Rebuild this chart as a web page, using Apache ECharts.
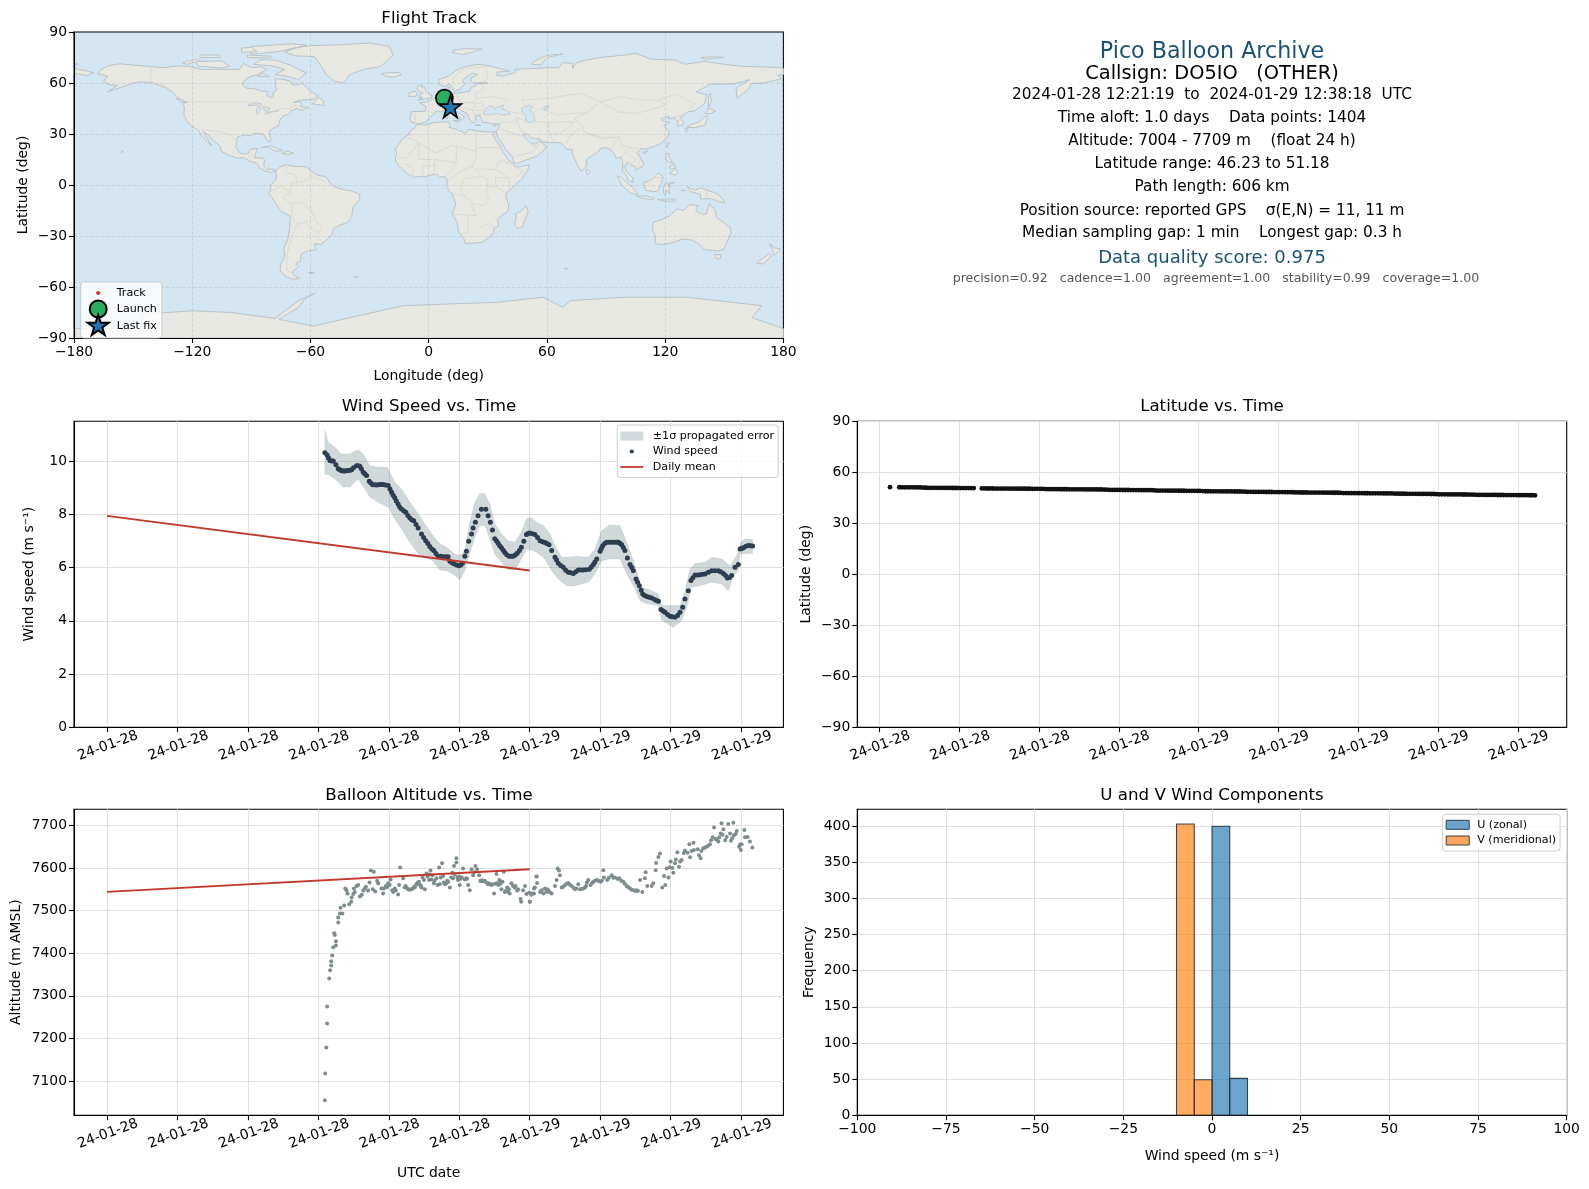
<!DOCTYPE html>
<html><head><meta charset="utf-8"><title>Pico Balloon Archive</title>
<style>html,body{margin:0;padding:0;background:#fff}#c{width:1589px;height:1189px}</style>
<script src="https://cdn.jsdelivr.net/npm/echarts@6/dist/echarts.min.js"></script></head>
<body><div id="c"></div><script>
const landPolys=[
[[-168,65.5],[-166,68.3],[-162,70.3],[-156.5,71.3],[-150,70.5],[-141,69.7],[-135,69],[-128,70],[-122,69.8],[-115,68],[-108,68],[-100,68],[-96,68],[-94,71.5],[-90,69],[-85,69.5],[-82,68],[-87,65],[-91,63.5],[-94,61],[-94.5,58.8],[-92.5,57],[-88,56.5],[-85,55.3],[-82,55],[-82,52.5],[-79.5,51.3],[-79,52],[-79,54.5],[-77,56],[-78,58.5],[-77.5,60.5],[-78,62.4],[-74,62.2],[-70,61],[-69,59],[-66,58.8],[-64.5,60.3],[-62,57.5],[-60,55],[-56,52.5],[-59,50.2],[-65,50],[-69,48.5],[-65,49],[-64.5,47.5],[-65,46],[-61,45.7],[-64,44],[-66,44.5],[-67,45],[-70,43.7],[-70.5,41.8],[-74,40.6],[-75.5,38],[-76,36],[-76,35],[-78,33.8],[-81,31.8],[-81,30],[-80,26.8],[-80.5,25.2],[-81.8,26],[-82.8,28],[-84,30],[-86,30.4],[-89,30.3],[-90,29],[-94,29.5],[-97,28],[-97.5,25],[-97.8,22.3],[-96,19],[-94,18.2],[-91.5,18.5],[-90.5,21],[-87,21.5],[-87.8,18.5],[-88.5,16],[-84,15.8],[-83.3,14.9],[-83.7,11],[-82,9],[-79.7,9.5],[-77.5,8.7],[-77.8,7.2],[-78.5,8.5],[-80,7.3],[-83,8.2],[-85.7,10],[-87.5,13],[-91,14],[-94,16],[-97,15.8],[-101.5,17.5],[-105.5,20],[-105.5,22.5],[-109,26],[-112.5,30],[-114.7,31.5],[-112.5,27.5],[-110,23],[-112,25],[-115,28.5],[-117,32.5],[-120.5,34.5],[-122.5,37.5],[-124.2,40.5],[-124,46],[-124.7,48.4],[-122.5,48.5],[-127,51],[-130,54.5],[-133,57],[-137,58.8],[-140,60],[-146,60.8],[-150,60],[-152,59],[-156,57.5],[-163,54.8],[-158,58.5],[-162,59],[-165,61],[-163,64]],
[[-77.8,8],[-75,11],[-72,12],[-71,11.5],[-68,11],[-62,10.7],[-60,8.5],[-57,6],[-52,4.8],[-50,1],[-48,-1],[-44,-2.5],[-39,-3.5],[-35,-5.5],[-35,-8.5],[-38.5,-13],[-39,-18],[-41,-22],[-45,-23.5],[-48.5,-26],[-49,-29],[-53,-33.5],[-55,-35],[-58,-34.5],[-57,-38],[-62,-39],[-65,-41],[-65,-45],[-67.5,-46],[-66,-48],[-69,-51],[-68.5,-53],[-65.5,-55],[-69,-55.5],[-73,-53.5],[-75.5,-50],[-75,-46],[-73,-42],[-73.5,-37],[-71.5,-32],[-70.5,-25],[-70.2,-18.5],[-75,-15.5],[-77,-12],[-79.5,-7.5],[-81.2,-5],[-80,-2.5],[-80.5,0],[-78.8,1.5],[-77.3,4],[-77.5,7]],
[[-6,35.8],[-2,35.2],[3,36.8],[10,37.3],[11,35],[10.2,34],[15,32.3],[19,30.3],[20,32.8],[25,31.7],[30,31.2],[32.3,31.2],[34.2,31.3],[32.5,29.9],[34,26.5],[36,23],[37.3,20],[38.5,18],[40,15],[43,12.5],[43.3,11.5],[45,10.5],[51.2,11.8],[50,8],[47.5,4],[43,-1],[40,-4],[39,-7],[40.5,-11],[40.5,-15],[37,-18],[35,-20],[35.5,-24],[33,-25.8],[32.8,-28],[30.5,-31],[27,-33.8],[22,-34.2],[18.5,-34.3],[18,-32],[15,-27],[14.5,-22],[12,-17],[13.7,-11],[12,-5.5],[9,-1],[9.5,3],[8.5,4.5],[5.5,5],[4,6.3],[1,5.8],[-2,4.8],[-4.5,5.2],[-7.5,4.4],[-11,6.8],[-13.5,9.5],[-15,11],[-17,14.7],[-16.3,19],[-17,21],[-15,24.5],[-13,27.8],[-10,29.5],[-9.7,31.5],[-7,33.7]],
[[-5.5,36],[-9,37],[-9.5,38.7],[-8.8,43.2],[-2,43.4],[-1.2,46],[-4.7,48.4],[-1.5,48.7],[1.5,50.2],[4,52],[6,53.4],[8.5,54],[8.2,56.5],[10.6,57.7],[10.2,55],[11,54],[14,54],[18.5,54.7],[21,55.5],[21.5,57.5],[24,58.2],[23.5,59.3],[28,59.6],[30,60],[26,60.3],[22.5,60],[21.3,61],[21.5,63],[25,65],[22,65.7],[17.5,62],[17.3,60.5],[18.8,59.5],[16.5,57.5],[16,56.2],[13,55.4],[11.3,58.5],[10.5,59.3],[8,58],[5.5,59],[5,62],[10,64],[14,67.5],[18,69.5],[25,71],[31,70],[41,67],[35,66.5],[34.5,64.5],[37.5,64],[40,65],[44,66],[44,68],[50,68.5],[54,68.5],[60,69],[66,69],[68,72],[73,71.5],[73,68.5],[75,72],[80,73.5],[87,75],[100,76.5],[105,77.5],[113,74],[125,73.5],[130,71],[140,72.7],[150,71],[160,69.7],[170,69.5],[178,69],[180,68.5],[180,65],[177,64.5],[179,62.5],[170,60],[164,59.8],[162,56],[156.5,51],[156,57],[163,62],[155,59.5],[143,59.3],[135.5,54.7],[141,53],[140,48],[135,43.5],[132,43.2],[129.5,41],[127.5,39.8],[129.4,37],[129,35.2],[126.5,34.5],[126.5,37.5],[125,38.5],[125,39.7],[121.5,39],[122,40.5],[118,39],[119,37.3],[122.5,37],[119.3,35],[121.8,31.5],[121.5,28.5],[118,24.5],[113.5,22.3],[110,21],[108,21.6],[106,19],[109,13],[109,11.5],[105,8.7],[105,10.5],[102.5,12],[100.8,13.5],[99.5,11],[100,8.5],[103.3,4.5],[104,1.5],[101,3],[100.3,6],[98.3,8],[98.5,14],[97.5,16.5],[95,15.8],[94.3,18.5],[92,21],[90,22],[87,21.5],[86.5,20],[82,16.5],[80,15],[80,11],[77.5,8],[76,10.5],[73,18],[72.7,21],[70,21],[69,22.7],[67,24.8],[61.5,25],[57,25.5],[56.5,27],[52,27.7],[50,30],[48,30],[48.5,28.5],[50,26.5],[51.5,25],[54,24],[56.2,26],[59.8,22.5],[58.5,20.5],[55,17],[52,15.7],[45,12.8],[43.3,13],[42.5,16.5],[39,21],[37,25],[35,28],[34.8,29.5],[34.2,31.3],[35.5,33.5],[36,36],[32.5,36],[30.5,36.5],[27.3,37],[26.5,39.5],[26.3,40],[26,40.8],[23.5,40.5],[24,38],[23,36.5],[21.5,37],[19.5,41],[19,42.5],[14.5,45],[13,45.7],[12.3,44.5],[16,41.8],[18.3,40],[16.5,38.5],[16,38],[15.8,40],[12.5,41.5],[10.5,43],[8.8,44.4],[6,43],[3.5,43.3],[3,42],[0,39.5],[-0.5,38],[-2,36.8]],
[[-73,78.2],[-68,80.5],[-60,82],[-45,82.5],[-30,83.5],[-20,81.5],[-18,76.5],[-22,72],[-25,69.5],[-33,68],[-40,65],[-43,60],[-48,61],[-52,65],[-54,69],[-58,75.5],[-68,76]],
[[-24,65.5],[-22,64],[-18,63.4],[-14,64.7],[-15,66.2],[-20,66]],
[[-5.5,50],[1.3,51.2],[1.7,52.7],[0,53.5],[-1.7,55.5],[-2,57.5],[-4,57.7],[-3.2,58.6],[-5.5,58.5],[-6,56.5],[-4.8,55],[-3,54],[-4.5,53.2],[-4.5,52],[-5,51.7],[-3,51.3]],
[[-10,52],[-6.3,52.2],[-6,54],[-7,55.3],[-10,54.2]],
[[12,78],[17,76.8],[22,78],[27,80],[18,80.2],[12,79]],
[[52,71],[57,70.7],[60,75],[68,77],[60,76.3],[54,73]],
[[131,34],[135,33.7],[140,35],[141,38],[141.5,41],[140,40],[137,37],[133,35.5]],
[[140,42],[143,42],[145.5,43.5],[142,45.4],[141.5,43.5]],
[[130,33.5],[131.5,33],[131,31],[130,32]],
[[142,46],[143.5,49],[143,54],[142,53],[142,49]],
[[120.3,23],[121.5,25],[122,24.5],[121,22]],
[[108.7,19],[111,20],[110,18.3]],
[[80,9.5],[82,7.5],[80.5,6],[79.8,8]],
[[95.5,5.5],[98,4],[104,-2],[106,-6],[102,-4.5],[98,0]],
[[105.5,-6.5],[110,-6.5],[114.5,-7.7],[114,-8.7],[108,-7.8]],
[[109,1.5],[113,3],[116.5,7],[119,5],[118,1],[116.5,-3.5],[114,-4],[110,-3]],
[[119.5,-5.5],[119,-2],[120,1],[125,1.5],[121,0],[122,-1],[123,-1],[121.7,-2],[122.5,-5],[120.5,-3],[120.3,-5.5]],
[[131,-1],[135,-3],[138,-1.7],[145,-4.5],[147.5,-6],[150.5,-10.5],[147,-9.7],[143.5,-8],[138,-8.3],[138,-5.5],[133,-4]],
[[120.3,16],[120.7,18.5],[122.2,18.3],[122,16],[124,13],[121,13.7]],
[[122,7],[125.5,9.7],[126.5,7],[125,5.7]],
[[122,10.5],[125,12.5],[125,10],[123,9.5]],
[[116,-8.5],[120,-8.3],[125,-8.3],[125,-9.5],[120,-9.5]],
[[128,-3],[130.5,-3.2],[129,-3.5]],
[[114,-22],[113.5,-26],[115,-30],[115,-34.5],[118,-35],[123.5,-34],[129,-31.7],[134,-32.5],[137.5,-35],[140,-38],[144,-38.5],[147,-38.8],[150,-37.5],[151.5,-33],[153.5,-28],[153,-25],[149.5,-22],[146,-19],[145.3,-15],[142.5,-10.8],[141.5,-14],[141,-17],[139,-17.5],[135.5,-15],[136.8,-12.2],[132.5,-11.5],[129.5,-15],[126,-14],[122.3,-18],[119,-20]],
[[145,-41],[148.3,-41],[148,-43.3],[146,-43.5]],
[[173,-34.5],[175.5,-37],[178.5,-37.7],[176.8,-40],[175,-41.5],[174.8,-39.5],[174.5,-38]],
[[172.7,-40.6],[174.2,-41.7],[171,-45],[170,-46.5],[166.5,-46],[168,-44.3]],
[[49.3,-12],[50.5,-15.5],[47.5,-24.8],[45,-25.5],[43.5,-23],[44.3,-20],[44,-17],[47,-15.3]],
[[-62,66],[-66,62],[-72,64],[-78,65],[-73,68],[-79,70],[-89,71],[-85,73.7],[-78,73.5],[-70,70.5],[-66,68]],
[[-117,70],[-105,68.7],[-101,70],[-105,73],[-118,72.7]],
[[-125,72],[-118,74],[-116,73],[-123,71]],
[[-90,77],[-76,78.5],[-62,82.3],[-70,83],[-90,81.5]],
[[-92,75],[-80,74.7],[-80,75.7],[-92,76.5]],
[[-87,64],[-81,63.7],[-84,65.8]],
[[-59,47.7],[-53,46.8],[-53.5,49.5],[-56,51.5]],
[[-95,78],[-87,78.5],[-90,81],[-95,80.5]],
[[-116,75],[-106,75],[-106,76.5],[-116,76.5]],
[[-85,22],[-80,23],[-74.2,20.2],[-78,19.9],[-82,22.5]],
[[-74.5,18.5],[-72,20],[-68.5,18.7],[-71,18]],
[[-128,50.8],[-125,50],[-123.5,48.4],[-125.5,48.8]],
[[-61,-51.5],[-58,-51.5],[-59,-52.3]],
[[69,-49],[70.5,-49.2],[69.5,-49.6]],
[[-156,19],[-155,19.7],[-155.7,20.2]],
[[-38,-54],[-36,-54],[-37,-54.8]],
[[-180,68.5],[-175,67.5],[-170,66],[-173,64.3],[-178,65.5],[-180,65]],
[[-180,71],[-178,71.5],[-178,70.8],[-180,70.8]],
[[138,75],[145,75.5],[150,75],[140,74]],
[[12.5,38],[15.5,38],[15,36.8]],[[8.3,41],[9.7,41],[9.5,39],[8.5,39]],[[8.7,43],[9.5,42.8],[9.3,41.5]],[[23.5,35.5],[26.3,35.2],[24.5,35]],[[32.5,35],[34.5,35.6],[33.5,34.6]],
[[-180,-84.5],[-145,-84.3],[-145,-76],[-120,-74],[-100,-75],[-78,-78.5],[-74,-75],[-66,-68],[-57.5,-63.5],[-63,-67],[-66,-72],[-76,-79],[-58.5,-83],[-36,-77],[-13,-71],[10,-70],[35,-69],[58,-66],[68,-72],[72,-68],[100,-66],[131,-66],[169,-71],[164,-78],[180,-84.5],[180,-90],[-180,-90]]
];
const innerWaters=[
[[28,41.5],[31,41.2],[35,42],[38,41],[41.5,41.7],[39,44],[37,45],[38,47],[35,46],[33.5,44.5],[33,46],[30.7,46.5],[28.7,44],[27.8,42.5]],
[[47,45],[51,47],[53,46],[51,44.5],[53,42],[54,38],[52,36.8],[49,37.5],[49.5,40.5],[47.5,43]],
[[-92,46.7],[-88,48.5],[-85,47.8],[-85,46.6],[-88,46.8]],
[[-87.7,42],[-86.3,42],[-85,45.5],[-87,45.6]],
[[-84,46],[-80.5,45.3],[-81.5,43.2],[-83.5,43.8]],
[[-83,41.7],[-79,42.8],[-79,43.3],[-76.3,44],[-76.3,43.4],[-79.5,43.2],[-83,42.2]],
[[58.5,46],[61,46.5],[60,44.5],[58.5,44.5]]
];
const borderLines=[
[[-123,49],[-95,49],[-89,48],[-83,46],[-82.5,42],[-79,43],[-75,45],[-71,45],[-67.5,47],[-67,45]],[[-141,70],[-141,60],[-135,59],[-130,55]],[[-117,32.5],[-106.5,31.8],[-101,29.5],[-97.5,26]],[[-92,14.7],[-91,17.5],[-89,18]],
[[-72,12],[-72.5,7.5],[-67.5,6],[-67,1]],[[-52,2],[-60,5],[-64,2],[-70,1],[-70,-4],[-74,-7.5],[-70,-11],[-65,-10],[-60,-14],[-58,-19],[-55,-24],[-54,-26],[-57.5,-30],[-53.5,-33.5]],[[-69.5,-18],[-67,-23],[-70,-32],[-72,-42],[-72,-50],[-68.5,-52.5]],[[-69,-11],[-69.5,-18]],[[-62.5,-22],[-58,-20]],[[-62.5,-22],[-58,-27],[-55,-27]],[[-80,-3.5],[-75,-1],[-70,-4]],[[-67,-23],[-62.5,-22]],
[[-8.7,27.5],[-13,27.7]],[[-8.7,27.3],[3,19],[4,19],[12,23.5],[14,22.7],[24,20],[24,30]],[[25,22],[36.8,22]],[[24,20],[24,16],[22,11],[27,5],[30,3.5],[30,-1],[29,-4.5],[30.5,-8.5],[28,-12],[22,-11],[22,-13],[24,-18],[20,-18],[20,-28],[17,-28.5]],[[12,-17],[24,-18]],[[33,-26],[31,-22.5],[25.5,-25.5]],[[33,4],[36,4.5],[41,4],[41,-1.7]],[[34,-1],[34,4.5]],[[34,-1],[39,-4.5]],[[-5,25],[-11.5,15.5],[-15.5,16.5]],[[-5,25],[-5,15],[3,15],[3,11.5],[2.7,6.3]],[[3,15],[14,13],[14,22.7]],[[14,13],[8.5,4.6]],[[15.5,7.5],[10,2.5]],[[22,11],[15.5,7.5]],[[36.5,14.5],[43,12]],[[34,9],[36,14.5]],[[34,9],[41,4]],[[43,11],[48,8],[44,4.5]],[[36.8,22],[38,18]],[[34,9],[24,9.5]],[[30,-1],[34,-1]],[[12,-5.5],[18,-6],[22,-11]],[[18,-6],[16,-3],[18,3.7],[27,5]],[[-8,4.5],[-8,10],[-12,12.5]],[[-3,5],[-3,11]],[[-3,11],[3,11.5]],
[[3,42.5],[-1.8,43.4]],[[-9,42],[-6.5,42],[-7,37.2]],[[2.5,51],[8,49],[7.5,47.5],[13,47.5],[17,48.5],[14.5,51],[14,54]],[[7,53.3],[6,51],[8,49]],[[13,47.5],[13.7,46]],[[7.5,47.5],[7,44]],[[17,48.5],[22,48.5],[24,48],[22,44],[16,46],[13.7,46]],[[24,51],[23.5,54],[28,56],[27.5,59.5]],[[22,48.5],[24,51],[32,52],[40,50],[38,47]],[[28,45.5],[27,48.5],[24,48]],[[22,44],[28.5,43.8]],[[22,44],[23,41.3],[26.3,41.5]],[[20,42],[21,40]],[[12,60],[13,64],[18,68.5],[25,69],[29,69.5],[30,62.5],[28,60.5]],
[[40,43.5],[48,41.8]],[[49,46.5],[47,50],[61,51],[77,54],[87,49],[80,42.5],[71,42],[66,41],[56,45],[53,42]],[[87,49],[98,52],[107,50],[117,50],[120,47],[112,44],[105,42],[96,43],[87,49]],[[117,50],[125,53.5],[135,48],[131,43],[130.5,42.5]],[[80,42.5],[74,39],[78,35],[79,31],[88,28],[97,28],[98,24],[102,22],[108,21.6]],[[44.5,39.5],[48,38.5]],[[54,37.5],[61,36.5],[61,31],[63,26]],[[44.5,39.5],[46,34],[48.5,30]],[[36,36.5],[42,37],[44.5,37.5],[44.5,39.5]],[[39,32],[47,29],[48.5,29.5]],[[39,32],[36,33]],[[43,17],[52,19],[55,22],[52,24]],[[55,22],[56,24.5]],[[61,36.5],[66,37.3],[74,37],[71,34],[66,30],[61,30]],[[70,24.3],[71,28],[75,32],[78,35]],[[79,31],[88,27],[92,28],[97,28],[94,24],[92,21]],[[101,21],[98,16],[99,10]],[[102,22],[105,19],[107.5,15],[106,11]],[[101,18],[105,15],[102.5,12]],[[124.4,40],[130.5,42.5]],[[126,38],[129,38.5]],[[110,1],[115,4.5],[118,4.3]],[[141,-2.6],[141,-9]]
];
const trackLon=[7.97,8.3,8.7,9.1,9.5,9.9,10.3,10.7,11];
const trackLat=[51.18,50.6,50.1,49.5,48.9,48.3,47.6,46.9,46.23];
const launchPoint=[7.97,51.1];
const lastFixPoint=[11,46.15];

const windHours=[12.37,12.5,12.66,12.85,13,13.13,13.32,13.6,13.89,14.17,14.36,14.55,14.74,14.89,15.08,15.4,15.68,15.97,16.16,16.34,16.53,16.72,16.97,17.2,17.42,17.67,17.86,18.1,18.33,18.56,18.8,19.09,19.37,19.47,19.69,19.99,20.18,20.32,20.41,20.54,20.7,20.79,20.92,21.07,21.26,21.51,21.64,21.77,21.89,22.02,22.21,22.4,22.59,22.83,23.06,23.29,23.53,23.67,23.82,24,24.3,24.59,24.87,25.1,25.25,25.44,25.63,25.91,26.2,26.48,26.76,27.05,27.39,27.62,27.81,28,28.15,28.37,28.66,29.04,29.23,29.41,29.55,29.7,29.89,30.04,30.23,30.42,30.65,30.93,31.31,31.46,31.69,31.97,32.25,32.54,32.69,32.82,33.01,33.16,33.39,33.67,33.96,34.34,34.71,35,35.23,35.47,35.66,35.85,35.95,36.13,36.42,36.66];
const windSpeed=[10.31,10.23,10.02,10,9.86,9.71,9.64,9.64,9.68,9.83,9.81,9.58,9.46,9.24,9.11,9.11,9.12,9.08,8.83,8.62,8.39,8.2,8.08,7.86,7.76,7.49,7.26,7.01,6.79,6.64,6.42,6.41,6.41,6.24,6.14,6.07,6.16,6.42,6.61,6.99,7.26,7.49,7.7,7.95,8.19,8.19,7.95,7.7,7.41,7.08,6.91,6.74,6.57,6.42,6.42,6.54,6.76,6.99,7.24,7.3,7.24,7.01,6.94,6.86,6.64,6.39,6.16,6.01,5.82,5.78,5.91,5.91,5.94,6.11,6.32,6.61,6.82,6.95,6.95,6.95,6.86,6.64,6.36,6.11,5.88,5.57,5.32,5.01,4.91,4.86,4.73,4.42,4.32,4.17,4.13,4.32,4.51,4.82,5.13,5.51,5.72,5.73,5.76,5.88,5.88,5.78,5.61,5.7,6.01,6.11,6.7,6.74,6.83,6.81];
const windHoursMore=[12.58,12.76,13.22,13.42,13.5,13.7,13.8,14,14.26,14.45,14.65,14.98,15.2,15.3,15.5,15.58,15.8,16.07,16.25,16.43,16.62,16.85,17.08,17.31,17.55,17.98,18.22,18.45,18.68,18.95,19.23,19.58,19.85,20.09,22.12,22.3,22.5,22.7,22.95,23.18,23.42,23.91,24.15,24.45,24.73,24.98,25.53,25.77,26.05,26.34,26.62,26.9,27.2,27.5,27.7,28.07,28.26,28.5,28.8,28.95,29.14,29.32,29.8,30.13,30.33,30.53,30.78,31.1,31.2,31.58,31.83,32.1,32.4,33.27,33.53,33.82,34.15,34.52,34.85,35.12,35.35,36.04,36.28,36.55];
const windSpeedMore=[10.12,10,9.68,9.63,9.63,9.65,9.66,9.75,9.83,9.7,9.52,9.18,9.11,9.1,9.12,9.12,9.1,8.95,8.72,8.5,8.28,8.13,7.96,7.8,7.62,7.13,6.9,6.7,6.53,6.42,6.41,6.19,6.1,6.1,7,6.82,6.65,6.48,6.42,6.47,6.64,7.28,7.27,7.13,6.97,6.9,6.28,6.08,5.9,5.8,5.84,5.91,5.92,6.02,6.2,6.72,6.9,6.95,6.95,6.95,6.9,6.75,6,5.45,5.15,4.95,4.88,4.8,4.76,4.37,4.24,4.15,4.2,5.62,5.72,5.75,5.82,5.88,5.84,5.7,5.63,6.72,6.8,6.82];
const bandUpperHours=[12.37,12.56,12.85,13.32,13.79,14.26,14.55,14.93,15.4,15.91,16.34,16.72,17.2,17.67,18.24,18.8,19.28,19.75,20.03,20.32,20.6,20.89,21.17,21.45,21.74,22.02,22.4,22.78,23.16,23.53,23.82,24.1,24.4,24.78,25.16,25.44,25.82,26.2,26.58,27.33,27.71,28.09,28.56,29.13,29.51,29.89,30.36,30.65,31.31,31.5,32.16,32.54,32.82,33.1,33.39,33.96,34.34,34.9,35.38,35.85,35.98,36.23,36.66];
const bandUpper=[11.15,10.71,10.58,10.27,10.27,10.43,10.27,9.83,9.77,9.77,9.21,8.96,8.45,8.02,7.45,6.95,6.76,6.51,6.45,6.64,7.7,8.45,8.77,8.79,8.39,7.64,7.26,7.01,6.95,7.33,7.83,7.87,7.7,7.58,7.26,6.82,6.39,6.39,6.42,6.39,6.7,7.39,7.61,7.58,6.95,6.26,5.26,5.2,5.01,4.57,4.57,4.57,5.13,5.95,6.14,6.2,6.39,6.32,6.07,6.57,6.95,7.07,7.07];
const bandLowerHours=[12.37,12.66,12.94,13.41,13.79,14.26,14.64,14.93,15.4,15.97,16.34,16.72,17.2,17.67,18.5,18.9,19.37,19.75,20.03,20.32,20.6,20.89,21.17,21.45,21.74,22.02,22.4,22.78,23.16,23.53,23.82,24.2,24.4,24.87,25.25,25.63,26.1,26.48,27.33,27.71,28.09,28.56,29.13,29.51,29.89,30.27,30.55,31.31,31.5,32.16,32.63,32.92,33.2,33.67,34.34,34.9,35.28,35.6,35.85,35.95,36.66];
const bandLower=[9.52,9.46,9.33,9.02,9.04,9.33,8.96,8.64,8.45,8.27,7.83,7.45,6.95,6.51,6.26,5.91,5.86,5.7,5.53,5.89,6.51,7.14,7.58,7.58,7.08,6.51,6.2,5.92,5.91,6.32,6.7,6.64,6.57,6.32,5.88,5.57,5.32,5.3,5.45,5.76,6.26,6.32,6.32,5.76,5.32,4.76,4.66,4.57,4.01,3.75,4.01,4.51,5.26,5.32,5.45,5.38,5.13,5.7,5.88,6.51,6.54];
const dailyHours=[0,24];
const dailyMeanWind=[7.94,5.89];
const dailyMeanAlt=[7544,7597];

const altHours=[12.37,12.39,12.45,12.5,12.5,12.62,12.67,12.73,12.73,12.79,12.85,13,13,12.94,12.9,13.13,13.13,13.22,13.37,13.26,13.47,13.75,13.87,13.89,13.98,14.07,13.53,13.6,13.66,14.02,14.17,14.26,14.36,14.47,14.55,14.64,14.83,14.91,14.98,15.15,15.23,15.34,15.4,15.59,15.68,15.83,15.97,16.1,16.25,16.34,16.53,16.59,16.65,16.82,16.97,17.1,17.29,17.48,17.61,17.72,17.86,17.92,18.05,18.14,18.29,18.37,18.48,18.56,18.71,18.86,18.9,19.03,19.09,19.28,19.37,19.47,19.62,19.65,19.71,19.84,19.84,19.94,20.03,19.99,20.22,20.32,20.51,20.6,20.7,20.79,20.92,21.02,21.13,21.23,21.45,21.64,21.83,21.98,22.12,22.15,22.3,22.4,22.53,22.59,22.72,22.87,22.97,23.15,23.29,23.48,23.52,23.63,23.74,23.82,24,23.97,24.1,24.25,24.38,24.42,24.02,24.11,24.3,24.4,24.59,24.78,24.87,25.06,25.25,25.44,25.53,25.59,25.67,25.72,25.82,26.01,26.2,26.39,26.58,26.76,26.86,27.14,27.33,27.46,27.62,27.81,28.03,28.18,28.22,28.41,28.66,28.85,29.09,29.32,29.51,29.7,29.93,30.08,30.27,30.4,30.55,30.59,30.68,30.93,31.02,31.16,31.18,31.31,31.4,31.53,31.63,31.78,31.88,32.01,32.16,32.25,32.39,32.48,32.63,32.82,32.97,33.11,33.07,33.3,33.33,33.54,33.71,33.86,34.05,34.24,34.39,34.47,34.62,34.71,34.85,34.9,35,35.19,35.28,35.38,35.43,35.57,35.6,35.76,35.89,35.99,36.04,36.19,36.23,36.38,36.51,36.65];
const altitude=[7055,7118,7179,7235,7275,7341,7360,7371,7381,7395,7414,7418,7428,7443,7447,7472,7484,7493,7493,7507,7512,7515,7521,7531,7539,7544,7552,7548,7540,7552,7558,7560,7533,7537,7547,7552,7547,7566,7594,7591,7545,7570,7564,7552,7540,7558,7564,7573,7544,7552,7538,7560,7601,7576,7558,7550,7550,7554,7564,7568,7554,7578,7550,7587,7572,7594,7583,7564,7576,7601,7562,7611,7581,7564,7568,7554,7589,7576,7605,7623,7613,7572,7560,7580,7599,7573,7560,7548,7597,7583,7605,7597,7583,7569,7570,7562,7560,7540,7586,7564,7570,7550,7591,7544,7554,7540,7564,7554,7547,7527,7521,7548,7558,7539,7521,7542,7537,7552,7580,7565,7521,7540,7554,7580,7544,7540,7552,7548,7540,7558,7572,7599,7594,7583,7554,7560,7565,7558,7550,7562,7550,7554,7572,7560,7568,7572,7568,7595,7578,7572,7583,7578,7576,7568,7558,7552,7548,7548,7572,7544,7576,7590,7558,7558,7564,7595,7612,7626,7634,7554,7581,7599,7578,7615,7589,7611,7637,7603,7619,7641,7636,7625,7656,7659,7642,7644,7623,7646,7650,7656,7672,7695,7667,7662,7681,7705,7691,7673,7703,7681,7664,7706,7677,7687,7650,7642,7656,7689,7672,7673,7662,7648];
const altHoursMore=[16.9,17.05,17.18,17.35,17.44,17.55,17.65,17.78,17.83,18,18.2,18.33,18.42,18.6,18.77,18.95,19.12,19.2,19.32,19.55,19.75,19.9,20.08,20.15,20.4,20.45,20.85,21.2,21.3,21.37,21.55,21.7,21.9,22.05,22.22,22.28,22.35,22.46,22.65,22.78,22.82,23.05,23.2,23.35,15.1,15.72,15.9,16.05,16.2,16.4,14.7,24.25,24.68,24.95,25,25.15,25.9,26.1,26.3,26.5,26.65,26.95,27.05,27.2,27.25,27.55,27.7,27.9,28.1,28.5,28.75,29,29.2,29.4,29.6,29.8,30,30.15,31.7,31.95,32.1,32.3,32.55,32.75,33.2,33.62,33.75,33.95,34.15,34.3,34.55,34.77,34.95,35.1,35.5,35.7,35.95];
const altitudeMore=[7555,7552,7549,7552,7556,7560,7566,7560,7558,7572,7580,7585,7573,7570,7560,7578,7566,7562,7570,7578,7585,7578,7575,7578,7576,7575,7590,7570,7571,7569,7566,7564,7562,7563,7560,7572,7563,7568,7546,7544,7550,7558,7558,7550,7550,7552,7555,7560,7548,7547,7556,7540,7548,7544,7550,7543,7556,7563,7560,7553,7552,7551,7552,7558,7566,7565,7570,7570,7570,7577,7577,7574,7570,7563,7555,7549,7546,7546,7560,7602,7600,7620,7615,7635,7640,7630,7640,7648,7653,7665,7668,7672,7678,7665,7670,7680,7655];

const latHours=[12.4,12.75,12.95,13.15,13.35,13.55,13.75,13.95,14.15,14.35,14.55,14.75,14.95,15.15,15.35,15.55,15.85,16.05,16.25,16.45,16.65,16.85,17.05,17.25,17.45,17.65,17.85,18.05,18.25,18.45,18.65,18.85,19.05,19.25,19.45,19.65,19.85,20.05,20.25,20.45,20.65,20.85,21.05,21.25,21.45,21.65,21.85,22.05,22.25,22.45,22.65,22.85,23.05,23.25,23.45,23.65,23.85,24.05,24.25,24.45,24.65,24.85,25.05,25.25,25.45,25.65,25.85,26.05,26.25,26.45,26.65,26.85,27.05,27.25,27.45,27.65,27.85,28.05,28.25,28.45,28.65,28.85,29.05,29.25,29.45,29.65,29.85,30.05,30.25,30.45,30.65,30.85,31.05,31.25,31.45,31.65,31.85,32.05,32.25,32.45,32.65,32.85,33.05,33.25,33.45,33.65,33.85,34.05,34.25,34.45,34.65,34.85,35.05,35.25,35.45,35.65,35.85,36.05,36.25,36.45,36.65];
const latitude=[51.18,51.15,51.12,51.1,51.08,51.02,50.85,50.82,50.8,50.78,50.75,50.72,50.7,50.68,50.66,50.66,50.45,50.42,50.4,50.38,50.36,50.34,50.32,50.3,50.28,50.26,50.24,50.22,50.05,50.03,50.01,49.98,49.96,49.94,49.92,49.9,49.88,49.85,49.83,49.8,49.6,49.58,49.55,49.53,49.5,49.47,49.45,49.42,49.4,49.2,49.18,49.15,49.12,49.1,49.08,49.05,49.02,49,48.8,48.77,48.75,48.72,48.7,48.67,48.65,48.62,48.45,48.42,48.4,48.37,48.35,48.32,48.3,48.27,48.25,48.1,48.07,48.05,48.02,48,47.97,47.95,47.92,47.9,47.72,47.7,47.67,47.65,47.62,47.6,47.57,47.55,47.52,47.5,47.35,47.32,47.3,47.27,47.25,47.22,47.2,47.17,47,46.98,46.95,46.92,46.9,46.87,46.85,46.7,46.67,46.65,46.62,46.6,46.58,46.55,46.52,46.5,46.48,46.45,46.42];
const latHoursMore=[12.85,13.05,13.25,13.45,13.65,13.85,14.05,14.25,14.45,14.65,14.85,15.05,15.25,15.45,15.95,16.15,16.35,16.55,16.75,16.95,17.15,17.35,17.55,17.75,17.95,18.15,18.35,18.55,18.75,18.95,19.15,19.35,19.55,19.75,19.95,20.15,20.35,20.55,20.75,20.95,21.15,21.35,21.55,21.75,21.95,22.15,22.35,22.55,22.75,22.95,23.15,23.35,23.55,23.75,23.95,24.15,24.35,24.55,24.75,24.95,25.15,25.35,25.55,25.75,25.95,26.15,26.35,26.55,26.75,26.95,27.15,27.35,27.55,27.75,27.95,28.15,28.35,28.55,28.75,28.95,29.15,29.35,29.55,29.75,29.95,30.15,30.35,30.55,30.75,30.95,31.15,31.35,31.55,31.75,31.95,32.15,32.35,32.55,32.75,32.95,33.15,33.35,33.55,33.75,33.95,34.15,34.35,34.55,34.75,34.95,35.15,35.35,35.55,35.75,35.95,36.15,36.35,36.55];
const latitudeMore=[51.13,51.11,51.09,51.05,50.9,50.83,50.81,50.79,50.76,50.73,50.71,50.69,50.67,50.66,50.44,50.41,50.39,50.37,50.35,50.33,50.31,50.29,50.27,50.25,50.23,50.2,50.04,50.02,50,49.97,49.95,49.93,49.91,49.89,49.87,49.84,49.82,49.75,49.59,49.57,49.54,49.52,49.49,49.46,49.44,49.41,49.3,49.19,49.17,49.14,49.11,49.09,49.07,49.04,49.01,48.9,48.78,48.76,48.74,48.71,48.69,48.66,48.64,48.55,48.44,48.41,48.39,48.36,48.34,48.31,48.29,48.26,48.2,48.09,48.06,48.04,48.01,47.99,47.96,47.94,47.91,47.8,47.71,47.69,47.66,47.64,47.61,47.59,47.56,47.54,47.51,47.42,47.34,47.31,47.29,47.26,47.24,47.21,47.19,47.1,46.99,46.97,46.94,46.91,46.89,46.86,46.78,46.69,46.66,46.64,46.61,46.59,46.56,46.53,46.51,46.49,46.47,46.44];

const binEdges=[-10,-5,0,5,10];
const uCounts=[0,0,400,51];
const vCounts=[403,49,0,0];

const mapLonTicks=[-180,-120,-60,0,60,120,180];
const mapLatTicks=[-90,-60,-30,0,30,60,90];
const windTicks=[0,2,4,6,8,10];
const altTicks=[7100,7200,7300,7400,7500,7600,7700];
const histXTicks=[-100,-75,-50,-25,0,25,50,75,100];
const histYTicks=[0,50,100,150,200,250,300,350,400];
const windTickHours=[0,4,8,12,16,20,24,28,32,36];
const windTickLabels=['24-01-28','24-01-28','24-01-28','24-01-28','24-01-28','24-01-28','24-01-29','24-01-29','24-01-29','24-01-29'];
const latTickHours=[12,15,18,21,24,27,30,33,36];
const latTickLabels=['24-01-28','24-01-28','24-01-28','24-01-28','24-01-29','24-01-29','24-01-29','24-01-29','24-01-29'];

const plotTitles=['Flight Track','Wind Speed vs. Time','Latitude vs. Time','Balloon Altitude vs. Time','U and V Wind Components'];
const infoHead='Pico Balloon Archive';
const infoCall='Callsign: DO5IO   (OTHER)';
const infoLines=['2024-01-28 12:21:19  to  2024-01-29 12:38:18  UTC','Time aloft: 1.0 days    Data points: 1404','Altitude: 7004 - 7709 m    (float 24 h)','Latitude range: 46.23 to 51.18','Path length: 606 km','Position source: reported GPS    σ(E,N) = 11, 11 m','Median sampling gap: 1 min    Longest gap: 0.3 h'];
const infoScore='Data quality score: 0.975';
const infoParts='precision=0.92   cadence=1.00   agreement=1.00   stability=0.99   coverage=1.00';

const FF='"DejaVu Sans"';
const GRIDS=[{left:74,top:32,width:709.4,height:306},{left:74,top:421.2,width:709.4,height:306},{left:857.3,top:421.2,width:709.4,height:306},{left:74,top:809.2,width:709.4,height:306},{left:857.3,top:809.2,width:709.4,height:306}];
const zip=(a,b)=>a.map((v,i)=>[v,b[i]]);
const minus=v=>String(v).replace('-','\u2212');
const GL='#e1e1e1';
function mkAxis(idx,type,min,max,ticks,fmt,extra){
  return Object.assign({type:'value',gridIndex:idx,min,max,
    axisLine:{show:true,onZero:false,lineStyle:{color:'#000',width:1.1}},
    axisTick:{show:true,length:5,lineStyle:{color:'#000',width:1.1},customValues:ticks},
    axisLabel:{color:'#000',fontSize:13.9,fontFamily:FF,margin:7,customValues:ticks,formatter:fmt,hideOverlap:false},
    splitLine:{show:true,lineStyle:{color:GL,width:1.1}},
    nameTextStyle:{color:'#000',fontSize:13.9,fontFamily:FF},nameLocation:'middle'},extra||{});
}
function timeAxis(idx,min,max,hours,labels,extra){
  const a=mkAxis(idx,'x',min,max,hours,v=>labels[hours.indexOf(v)],extra);
  a.axisLabel.rotate=20;a.axisLabel.align='center';a.axisLabel.verticalAlign='middle';a.axisLabel.margin=19;a.axisLabel.padding=[0,0,0,2];
  return a;
}
const tt=(text,cx,cy,size,color)=>({text,left:cx,top:cy-size*0.44,padding:0,textAlign:'center',textStyle:{fontFamily:FF,fontSize:size,fontWeight:'normal',color:color||'#000'}});
const infoYs=[94.2,117.5,139.8,163.2,186.5,209.8,232];
const titles=[tt(plotTitles[0],429,17.5,16.67),tt(plotTitles[1],429,405.5,16.67),tt(plotTitles[2],1212,405.5,16.67),tt(plotTitles[3],429,794.5,16.67),tt(plotTitles[4],1212,794.5,16.67),
 tt(infoHead,1212,50.7,22.2,'#1a5276'),tt(infoCall,1212,73,19.4,'#000')]
 .concat(infoLines.map((t,i)=>tt(t,1212,infoYs[i],15.3)))
 .concat([tt(infoScore,1212,257.4,18,'#1a5276'),tt(infoParts,1216,277.7,12.55,'#555')]);

const polySeries=(name,polys,fill,stroke,lw)=>({type:'custom',name,xAxisIndex:0,yAxisIndex:0,silent:true,z:1,coordinateSystem:'cartesian2d',
  data:polys.map((p,i)=>[p[0][0],p[0][1],i]),
  renderItem:(params,api)=>({type:'polygon',shape:{points:polys[params.dataIndex].map(q=>api.coord(q))},style:{fill,stroke,lineWidth:lw}})});
const dotIcon=(w,h,r)=>`path://M0 0L0 0M${w} ${h}L${w} ${h}M${w/2-r} ${h/2}a${r} ${r} 0 1 0 ${2*r} 0a${r} ${r} 0 1 0 ${-2*r} 0z`;
const STAR='M50 0L61.8 35.3L98 35.3L68.7 57L79.4 91L50 70L20.6 91L31.3 57L2 35.3L38.2 35.3Z';
const starIcon=(w,h)=>{const s=h/100,o=(w-h)/2;return 'path://M0 0L0 0M'+w+' '+h+'L'+w+' '+h+' '+STAR.replace(/(\d+\.?\d*) (\d+\.?\d*)/g,(m,a,b)=>((+a)*s+o).toFixed(2)+' '+((+b)*s).toFixed(2));};
const legendText={fontFamily:FF,fontSize:11.1,color:'#000',padding:[0,0,0,3]};
const legendBox={orient:'vertical',selectedMode:false,backgroundColor:'rgba(255,255,255,0.8)',borderColor:'#ccc',borderWidth:1,borderRadius:3,textStyle:legendText};
const mapGridLine={show:true,lineStyle:{color:'rgba(120,130,135,0.2)',width:0.9,type:'dashed'}};

const option={animation:false,backgroundColor:'#fff',title:titles,
grid:GRIDS.map((g,i)=>Object.assign({show:true,borderColor:'#000',borderWidth:1.1,backgroundColor:i===0?'#d4e6f1':'#fff'},g)),
xAxis:[
 mkAxis(0,'x',-180,180,mapLonTicks,minus,{z:3,name:'Longitude (deg)',nameGap:31,splitLine:mapGridLine}),
 timeAxis(1,-1.874,38.41,windTickHours,windTickLabels),
 timeAxis(2,11.17,37.84,latTickHours,latTickLabels),
 timeAxis(3,-1.874,38.41,windTickHours,windTickLabels,{name:'UTC date',nameGap:51}),
 mkAxis(4,'x',-100,100,histXTicks,minus,{name:'Wind speed (m s\u207B\u00B9)',nameGap:34})
],
yAxis:[
 mkAxis(0,'y',-90,90,mapLatTicks,minus,{z:3,name:'Latitude (deg)',nameGap:44,splitLine:mapGridLine}),
 mkAxis(1,'y',0,11.5,windTicks,String,{name:'Wind speed (m s\u207B\u00B9)',nameGap:38}),
 mkAxis(2,'y',-90,90,mapLatTicks,minus,{name:'Latitude (deg)',nameGap:44}),
 mkAxis(3,'y',7020,7738,altTicks,String,{name:'Altitude (m AMSL)',nameGap:51}),
 mkAxis(4,'y',0,423.5,histYTicks,String,{name:'Frequency',nameGap:41})
],
legend:[
 Object.assign({},legendBox,{left:80.7,top:282,padding:[0,5,0,3],itemWidth:27,itemHeight:22,itemGap:-7,textStyle:Object.assign({},legendText,{padding:[0,0,0,0]}),
   data:[{name:'Track',icon:dotIcon(27,22,2.1)},{name:'Launch',icon:dotIcon(27,22,8.5)},{name:'Last fix',icon:starIcon(27,22)}]}),
 Object.assign({},legendBox,{left:617.3,top:425,padding:[5.5,4,5,1.5],itemWidth:26,itemHeight:9,itemGap:4.5,
   data:[{name:'\u00B11\u03C3 propagated error',icon:'path://M0 0L0 0M26 9L26 9M1.5 0h23v9h-23z',itemStyle:{color:'#d2d9dc'}},
         {name:'Wind speed',icon:dotIcon(26,9,2.1)},
         {name:'Daily mean',icon:'path://M0 0L0 0M26 9L26 9M1.5 3.6h23v1.8h-23z',itemStyle:{color:'#c0392b',borderWidth:0}}]}),
 Object.assign({},legendBox,{left:1442.7,top:814.3,padding:[5,4,5,3],itemWidth:23,itemHeight:9,itemGap:4.7,
   data:[{name:'U (zonal)',icon:'rect',itemStyle:{color:'#6ba3cd',borderColor:'#2b4050',borderWidth:1}},{name:'V (meridional)',icon:'rect',itemStyle:{color:'#ffa75c',borderColor:'#403a30',borderWidth:1}}]})
],
series:[
 polySeries('land',landPolys,'#e8e8e3','#bcc4c8',1),
 polySeries('inner waters',innerWaters,'#d4e6f1','#bcc4c8',0.8),
 {type:'custom',name:'borders',xAxisIndex:0,yAxisIndex:0,silent:true,z:1,data:borderLines.map((p,i)=>[p[0][0],p[0][1],i]),
  renderItem:(params,api)=>({type:'polyline',shape:{points:borderLines[params.dataIndex].map(q=>api.coord(q))},style:{fill:'none',stroke:'#d8d8d3',lineWidth:0.9}})},
 {type:'scatter',name:'Track',xAxisIndex:0,yAxisIndex:0,data:zip(trackLon,trackLat),symbolSize:4,itemStyle:{color:'#c0392b',opacity:1},z:4},
 {type:'scatter',name:'Launch',xAxisIndex:0,yAxisIndex:0,data:[launchPoint],symbolSize:17,itemStyle:{color:'#27ae60',borderColor:'#000',borderWidth:1.6,opacity:1},z:5},
 {type:'scatter',name:'Last fix',xAxisIndex:0,yAxisIndex:0,data:[lastFixPoint],symbol:'path://'+STAR,symbolSize:22,itemStyle:{color:'#1f77b4',borderColor:'#000',borderWidth:1.6,opacity:1},z:6},
 {type:'custom',name:'\u00B11\u03C3 propagated error',xAxisIndex:1,yAxisIndex:1,silent:true,z:1,itemStyle:{color:'#d2d9dc'},data:[[bandUpperHours[0],bandUpper[0]]],
  renderItem:(params,api)=>{
    const up=zip(bandUpperHours,bandUpper).map(q=>api.coord(q));
    const lo=zip(bandLowerHours,bandLower).map(q=>api.coord(q)).reverse();
    return {type:'polygon',shape:{points:up.concat(lo)},style:{fill:'rgba(100,125,130,0.3)',stroke:'rgba(100,125,130,0.12)',lineWidth:1}};}},
 {type:'scatter',name:'Wind speed',xAxisIndex:1,yAxisIndex:1,data:zip(windHours,windSpeed).concat(zip(windHoursMore,windSpeedMore)),symbolSize:5,itemStyle:{color:'#2c3e50',opacity:1},z:3},
 {type:'line',name:'Daily mean',xAxisIndex:1,yAxisIndex:1,data:zip(dailyHours,dailyMeanWind),showSymbol:false,symbol:'none',lineStyle:{color:'#c0392b',width:1.9},itemStyle:{color:'#c0392b'},z:4},
 {type:'scatter',name:'Latitude',xAxisIndex:2,yAxisIndex:2,data:zip(latHours,latitude).concat(zip(latHoursMore,latitudeMore)),symbolSize:4.8,itemStyle:{color:'#111',opacity:1},z:3},
 {type:'scatter',name:'Altitude',xAxisIndex:3,yAxisIndex:3,data:zip(altHours,altitude).concat(zip(altHoursMore,altitudeMore)),symbolSize:4,itemStyle:{color:'#7f8c8d',opacity:1},z:3},
 {type:'line',name:'Daily mean altitude',xAxisIndex:3,yAxisIndex:3,data:zip(dailyHours,dailyMeanAlt),showSymbol:false,symbol:'none',lineStyle:{color:'#c0392b',width:1.9},z:4},
 {type:'custom',name:'U (zonal)',xAxisIndex:4,yAxisIndex:4,silent:true,z:3,itemStyle:{color:'#1f77b4'},data:uCounts.map((c,i)=>[binEdges[i],c,i]).filter(d=>d[1]>0),
  renderItem:(params,api)=>{const i=api.value(2),a=api.coord([binEdges[i],api.value(1)]),b=api.coord([binEdges[i+1],0]);
    return {type:'rect',shape:{x:a[0],y:a[1],width:b[0]-a[0],height:b[1]-a[1]},style:{fill:'rgba(31,119,180,0.66)',stroke:'rgba(20,30,40,0.8)',lineWidth:1.1}};}},
 {type:'custom',name:'V (meridional)',xAxisIndex:4,yAxisIndex:4,silent:true,z:3,itemStyle:{color:'#ff7f0e'},data:vCounts.map((c,i)=>[binEdges[i],c,i]).filter(d=>d[1]>0),
  renderItem:(params,api)=>{const i=api.value(2),a=api.coord([binEdges[i],api.value(1)]),b=api.coord([binEdges[i+1],0]);
    return {type:'rect',shape:{x:a[0],y:a[1],width:b[0]-a[0],height:b[1]-a[1]},style:{fill:'rgba(255,127,14,0.66)',stroke:'rgba(20,30,40,0.8)',lineWidth:1.1}};}}
]};
const chart=echarts.init(document.getElementById('c'),null,{renderer:'canvas',width:1589,height:1189});
chart.setOption(option);
</script></body></html>
